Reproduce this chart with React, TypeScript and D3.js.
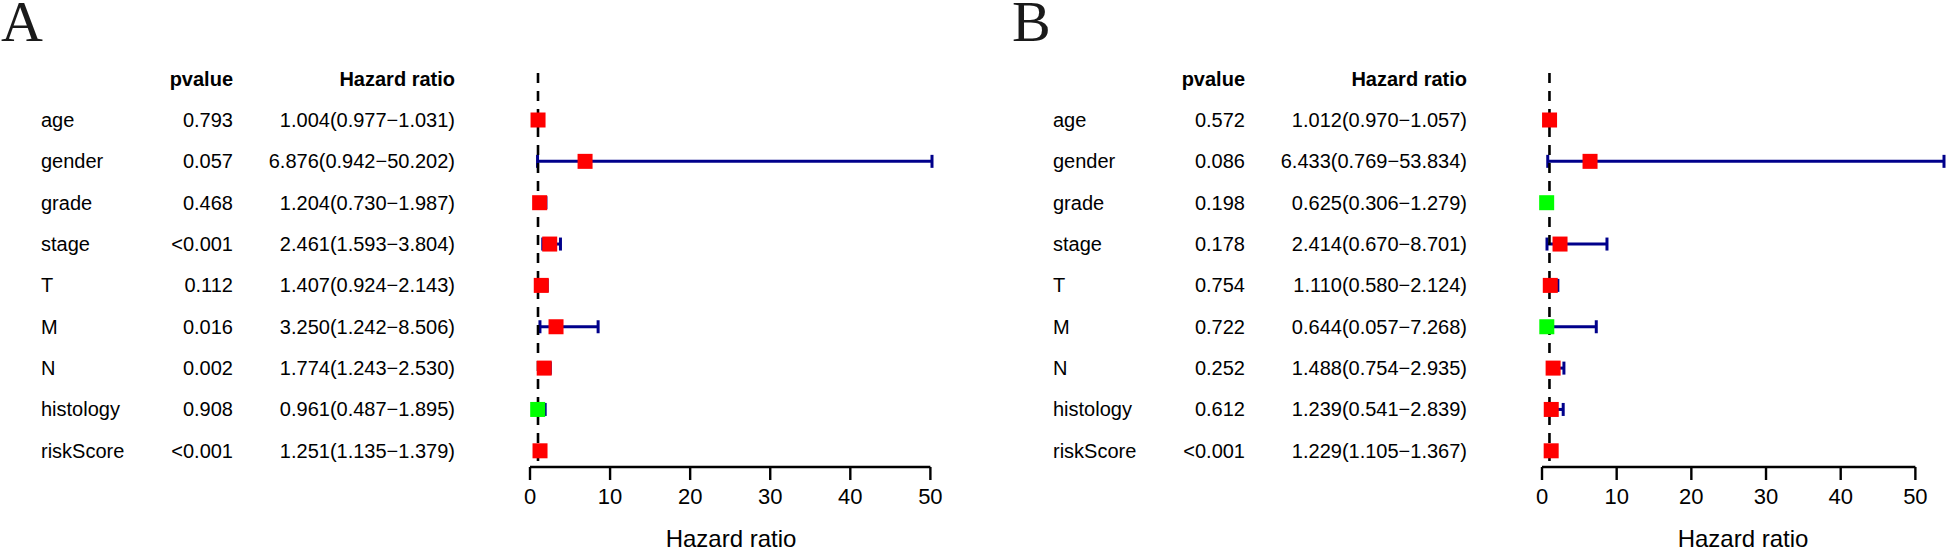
import * as d3 from "d3";
import { useEffect, useRef } from "react";

// row order is shared by both panels
const variables = ["age", "gender", "grade", "stage", "T", "M", "N", "histology", "riskScore"];

// panel A
const pvalA = ["0.793", "0.057", "0.468", "<0.001", "0.112", "0.016", "0.002", "0.908", "<0.001"];
const hrA = [1.004, 6.876, 1.204, 2.461, 1.407, 3.25, 1.774, 0.961, 1.251];
const lowA = [0.977, 0.942, 0.73, 1.593, 0.924, 1.242, 1.243, 0.487, 1.135];
const highA = [1.031, 50.202, 1.987, 3.804, 2.143, 8.506, 2.53, 1.895, 1.379];

// panel B
const pvalB = ["0.572", "0.086", "0.198", "0.178", "0.754", "0.722", "0.252", "0.612", "<0.001"];
const hrB = [1.012, 6.433, 0.625, 2.414, 1.11, 0.644, 1.488, 1.239, 1.229];
const lowB = [0.97, 0.769, 0.306, 0.67, 0.58, 0.057, 0.754, 0.541, 1.105];
const highB = [1.057, 53.834, 1.279, 8.701, 2.124, 7.268, 2.935, 2.839, 1.367];

const xTicks = [0, 10, 20, 30, 40, 50];

const W = 1946;
const H = 551;
const SANS = "'Liberation Sans', Arial, sans-serif";

interface PanelData {
    letter: string;
    pvals: string[];
    hr: number[];
    low: number[];
    high: number[];
}

const panels: PanelData[] = [
    { letter: "A", pvals: pvalA, hr: hrA, low: lowA, high: highA },
    { letter: "B", pvals: pvalB, hr: hrB, low: lowB, high: highB },
];

export default function App() {
    const ref = useRef<SVGSVGElement | null>(null);

    useEffect(() => {
        if (!ref.current) return;
        const svg = d3.select(ref.current);
        svg.selectAll("*").remove();

        const panelOffset = 1012;
        const rowY = d3.scaleLinear().domain([0, 1]).range([120, 161.35]);
        const fmt = d3.format(".3f");

        panels.forEach((p, pi) => {
            const g = svg.append("g").attr("transform", `translate(${pi * panelOffset},0)`);

            // panel letter
            g.append("text")
                .attr("x", pi === 0 ? 1 : 0)
                .attr("y", 41)
                .attr("font-family", "'Liberation Serif', 'Times New Roman', serif")
                .attr("font-size", 58)
                .attr("fill", "#1a1a1a")
                .text(p.letter);

            // headers
            g.append("text")
                .attr("x", 233).attr("y", rowY(-1) + 7)
                .attr("text-anchor", "end")
                .attr("font-family", SANS).attr("font-weight", "bold").attr("font-size", 20)
                .text("pvalue");
            g.append("text")
                .attr("x", 455).attr("y", rowY(-1) + 7)
                .attr("text-anchor", "end")
                .attr("font-family", SANS).attr("font-weight", "bold").attr("font-size", 20)
                .text("Hazard ratio");

            // table
            variables.forEach((v, i) => {
                const y = rowY(i) + 7;
                g.append("text").attr("x", 41).attr("y", y)
                    .attr("font-family", SANS).attr("font-size", 20).text(v);
                g.append("text").attr("x", 233).attr("y", y).attr("text-anchor", "end")
                    .attr("font-family", SANS).attr("font-size", 20).text(p.pvals[i]);
                g.append("text").attr("x", 455).attr("y", y).attr("text-anchor", "end")
                    .attr("font-family", SANS).attr("font-size", 20)
                    .text(`${fmt(p.hr[i])}(${fmt(p.low[i])}\u2212${fmt(p.high[i])})`);
            });

            // forest plot
            const x = d3.scaleLinear()
                .domain([0, d3.max(p.high)!])
                .range([530, 932]);
            const axisY = 467;

            // whiskers
            variables.forEach((_, i) => {
                const y = rowY(i);
                g.append("line")
                    .attr("x1", x(p.low[i])).attr("x2", x(p.high[i]))
                    .attr("y1", y).attr("y2", y)
                    .attr("stroke", "#00008B").attr("stroke-width", 3);
                [p.low[i], p.high[i]].forEach(e => {
                    g.append("line")
                        .attr("x1", x(e)).attr("x2", x(e))
                        .attr("y1", y - 6.5).attr("y2", y + 6.5)
                        .attr("stroke", "#00008B").attr("stroke-width", 3);
                });
            });

            // reference line at HR = 1
            g.append("line")
                .attr("x1", x(1)).attr("x2", x(1))
                .attr("y1", 73).attr("y2", axisY)
                .attr("stroke", "black").attr("stroke-width", 2.6)
                .attr("stroke-dasharray", "10,8");

            // points
            variables.forEach((_, i) => {
                g.append("rect")
                    .attr("x", x(p.hr[i]) - 7.5).attr("y", rowY(i) - 7.5)
                    .attr("width", 15).attr("height", 15)
                    .attr("fill", p.hr[i] > 1 ? "#FF0000" : "#00FF00");
            });

            // x axis
            g.append("line")
                .attr("x1", x(xTicks[0])).attr("x2", x(xTicks[xTicks.length - 1]))
                .attr("y1", axisY).attr("y2", axisY)
                .attr("stroke", "black").attr("stroke-width", 2.4);
            xTicks.forEach(t => {
                g.append("line")
                    .attr("x1", x(t)).attr("x2", x(t))
                    .attr("y1", axisY).attr("y2", axisY + 13)
                    .attr("stroke", "black").attr("stroke-width", 2.4);
                g.append("text")
                    .attr("x", x(t)).attr("y", axisY + 37)
                    .attr("text-anchor", "middle")
                    .attr("font-family", SANS).attr("font-size", 22)
                    .text(t);
            });
            g.append("text")
                .attr("x", (x(0) + x.range()[1]) / 2).attr("y", 547)
                .attr("text-anchor", "middle")
                .attr("font-family", SANS).attr("font-size", 24)
                .text("Hazard ratio");
        });
    }, []);

    return (
        <svg
            ref={ref}
            width={W}
            height={H}
            style={{ position: "absolute", left: 0, top: 0, background: "white" }}
        />
    );
}
